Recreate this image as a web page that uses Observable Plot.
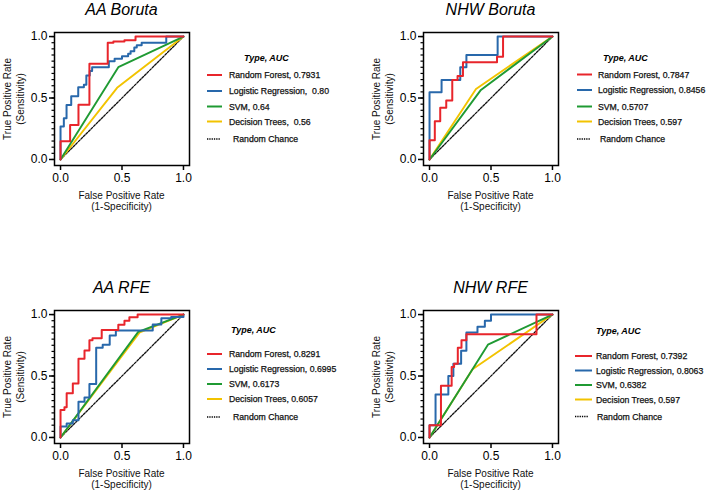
<!DOCTYPE html>
<html>
<head>
<meta charset="utf-8">
<script src="https://cdn.jsdelivr.net/npm/d3@7"></script>
<script src="https://cdn.jsdelivr.net/npm/@observablehq/plot@0.6"></script>
<style>
  html, body { margin: 0; padding: 0; background: #fff; }
  #root { position: relative; width: 708px; height: 493px; overflow: hidden; background: #fff;
          font-family: "Liberation Sans", Arial, sans-serif; }
  #root > .panel { position: absolute; }
  #overlay { position: absolute; left: 0; top: 0; }
</style>
</head>
<body>
<div id="root"></div>
<script>
// ---------------- DATA ----------------
const panelTitles = ["AA Boruta", "NHW Boruta", "AA RFE", "NHW RFE"];
const methods = ["Random Forest", "Logistic Regression", "SVM", "Decision Trees"];
const chanceLabel = "Random Chance";
const legendHeader = "Type, AUC";
const axisTicks = [0, 0.5, 1];
const yMinorTicks = [0, 0.05, 0.1, 0.15, 0.2, 0.25, 0.3, 0.35, 0.4, 0.45, 0.5,
                     0.55, 0.6, 0.65, 0.7, 0.75, 0.8, 0.85, 0.9, 0.95, 1];
const xTitle = ["False Positive Rate", "(1-Specificity)"];
const yTitle = ["True Positive Rate", "(Sensitivity)"];

// AUC labels per panel
const aucAABoruta  = ["0.7931", "\u00a00.80", "0.64", "\u00a00.56"];
const aucNHWBoruta = ["0.7847", "0.8456", "0.5707", "0.597"];
const aucAARFE     = ["0.8291", "0.6995", "0.6173", "0.6057"];
const aucNHWRFE    = ["0.7392", "0.8063", "0.6382", "0.597"];

// chance diagonal
const chanceLine = [[0, 0], [1, 1]];

// ROC points (FPR, TPR); RF / LR are step curves (corner points), SVM / DT are straight segments
const aaBorutaRF  = [[0,0],[0,0.149],[0.078,0.28],[0.146,0.446],[0.235,0.778],[0.384,0.95],[0.43,0.96],[0.52,0.97],[0.61,1],[1,1]];
const aaBorutaLR  = [[0,0],[0,0.268],[0.027,0.336],[0.049,0.444],[0.087,0.515],[0.144,0.588],[0.19,0.607],[0.21,0.683],[0.238,0.72],[0.257,0.75],[0.393,0.8],[0.44,0.82],[0.5,0.84],[0.55,0.86],[0.57,0.88],[0.6,0.91],[0.62,0.93],[0.66,0.95],[0.86,1],[1,1]];
const aaBorutaSVM = [[0,0],[0.47,0.751],[1,1]];
const aaBorutaDT  = [[0,0],[0.46,0.583],[1,1]];

const nhwBorutaRF  = [[0,0],[0,0.156],[0.043,0.31],[0.087,0.42],[0.136,0.48],[0.185,0.647],[0.228,0.68],[0.272,0.79],[0.549,0.836],[0.598,1],[1,1]];
const nhwBorutaLR  = [[0,0],[0,0.547],[0.098,0.647],[0.25,0.75],[0.3,0.85],[0.554,1],[1,1]];
const nhwBorutaSVM = [[0,0],[0.418,0.566],[1,1]];
const nhwBorutaDT  = [[0,0],[0.378,0.574],[1,1]];

const aaRfeRF  = [[0,0],[0,0.223],[0.032,0.245],[0.05,0.36],[0.1,0.44],[0.146,0.64],[0.195,0.707],[0.235,0.79],[0.26,0.807],[0.335,0.875],[0.47,0.918],[0.52,0.95],[0.56,0.978],[0.627,1],[1,1]];
const aaRfeLR  = [[0,0],[0,0.09],[0.05,0.114],[0.1,0.14],[0.146,0.29],[0.195,0.326],[0.235,0.435],[0.29,0.73],[0.343,0.755],[0.4,0.83],[0.45,0.87],[0.75,0.92],[0.82,0.97],[0.9,0.98],[1,1]];
const aaRfeSVM = [[0,0],[0.632,0.859],[1,1]];
const aaRfeDT  = [[0,0],[0.645,0.856],[1,1]];

const nhwRfeRF  = [[0,0],[0,0.1],[0.093,0.42],[0.18,0.574],[0.2,0.6],[0.23,0.73],[0.26,0.79],[0.3,0.84],[0.87,1],[1,1]];
const nhwRfeLR  = [[0,0],[0,0.1],[0.049,0.35],[0.153,0.5],[0.194,0.6],[0.257,0.705],[0.3,0.855],[0.39,0.9],[0.45,0.95],[0.5,1],[1,1]];
const nhwRfeSVM = [[0,0],[0.475,0.755],[1,1]];
const nhwRfeDT  = [[0,0],[0.35,0.555],[1,1]];

// ---------------- STYLE / LAYOUT ----------------
const colors = ["#e8252b", "#2868ab", "#1f9a33", "#f2c300"];
const fontFamily = "'Liberation Sans', Arial, sans-serif";

const panels = [
  { title: panelTitles[0], auc: aucAABoruta,  curves: [aaBorutaRF, aaBorutaLR, aaBorutaSVM, aaBorutaDT],
    left: 0, top: 0, legend: { hx: 244, hy: 58, sx1: 207, sx2: 222, tx: 229, cx: 233, rows: [75, 91, 106.5, 121.5, 139] } },
  { title: panelTitles[1], auc: aucNHWBoruta, curves: [nhwBorutaRF, nhwBorutaLR, nhwBorutaSVM, nhwBorutaDT],
    left: 369, top: 0, legend: { hx: 603, hy: 58, sx1: 577, sx2: 592, tx: 598, cx: 600, rows: [74.5, 90, 106.5, 121.5, 139] } },
  { title: panelTitles[2], auc: aucAARFE,     curves: [aaRfeRF, aaRfeLR, aaRfeSVM, aaRfeDT],
    left: 0, top: 278, legend: { hx: 231, hy: 330, sx1: 207, sx2: 222, tx: 229, cx: 233, rows: [354, 369, 384, 399, 417] } },
  { title: panelTitles[3], auc: aucNHWRFE,    curves: [nhwRfeRF, nhwRfeLR, nhwRfeSVM, nhwRfeDT],
    left: 369, top: 278, legend: { hx: 596, hy: 331, sx1: 575, sx2: 592, tx: 596, cx: 597, rows: [356, 370.5, 385, 399.5, 416.5] } }
];

const W = 200, H = 215, ML = 54, MR = 11, MT = 32, MB = 50;

function rocPlot(curves) {
  const ln = (pts, color, curve, sw) =>
    Plot.line(pts, { x: d => d[0], y: d => d[1], stroke: color, strokeWidth: sw, curve });
  return Plot.plot({
    width: W, height: H, marginLeft: ML, marginRight: MR, marginTop: MT, marginBottom: MB,
    x: { domain: [-0.049, 1.049] },
    y: { domain: [-0.049, 1.033] },
    style: { background: "transparent", fontFamily, fontSize: "12px", color: "#000", overflow: "visible" },
    marks: [
      Plot.line(chanceLine, { x: d => d[0], y: d => d[1], stroke: "#111", strokeWidth: 1.3, strokeDasharray: "2.2,1.4" }),
      ln(curves[3], colors[3], "linear", 1.9),
      ln(curves[2], colors[2], "linear", 1.9),
      ln(curves[1], colors[1], "step-after", 2),
      ln(curves[0], colors[0], "step-after", 2),
      Plot.frame({ stroke: "#000", strokeWidth: 1.5 }),
      Plot.axisX({ ticks: axisTicks, tickSize: 5, tickPadding: 3, tickFormat: d3.format(".1f"), label: null, strokeWidth: 1.5, fontSize: 12 }),
      Plot.axisY({ ticks: yMinorTicks, tickSize: 2.5, fill: "none", label: null, strokeWidth: 1.2 }),
      Plot.axisY({ ticks: axisTicks, tickSize: 5, tickPadding: 2, tickFormat: d3.format(".1f"), label: null, strokeWidth: 1.5, fontSize: 12 })
    ]
  });
}

const root = document.getElementById("root");
for (const p of panels) {
  const el = rocPlot(p.curves);
  el.classList.add("panel");
  el.style.left = p.left + "px";
  el.style.top = p.top + "px";
  root.appendChild(el);
}

// overlay for titles, axis titles and legends
const svg = d3.select(root).append("svg")
  .attr("id", "overlay").attr("width", 708).attr("height", 493)
  .style("font-family", fontFamily);

for (const p of panels) {
  const x0 = p.left + 60, x1 = p.left + 183;
  const xc = (x0 + x1) / 2;
  // title
  svg.append("text").attr("x", xc).attr("y", p.top + 15)
    .attr("text-anchor", "middle").attr("font-size", 16).attr("font-style", "italic")
    .attr("fill", "#000").text(p.title);
  // x title
  svg.append("text").attr("x", xc).attr("y", p.top + 198.5)
    .attr("text-anchor", "middle").attr("font-size", 10).attr("fill", "#111").text(xTitle[0]);
  svg.append("text").attr("x", xc).attr("y", p.top + 209.5)
    .attr("text-anchor", "middle").attr("font-size", 10).attr("fill", "#111").text(xTitle[1]);
  // y title
  const yc = p.top + 99;
  svg.append("text").attr("transform", `translate(${p.left + 10.5},${yc}) rotate(-90)`)
    .attr("text-anchor", "middle").attr("font-size", 10).attr("fill", "#111").text(yTitle[0]);
  svg.append("text").attr("transform", `translate(${p.left + 23.5},${yc}) rotate(-90)`)
    .attr("text-anchor", "middle").attr("font-size", 10).attr("fill", "#111").text(yTitle[1]);

  // legend
  const L = p.legend;
  svg.append("text").attr("x", L.hx).attr("y", L.hy + 3.3)
    .attr("font-size", 9).attr("font-weight", "bold").attr("font-style", "italic")
    .attr("fill", "#000").text(legendHeader);
  methods.forEach((m, i) => {
    const y = L.rows[i];
    svg.append("line").attr("x1", L.sx1).attr("x2", L.sx2).attr("y1", y).attr("y2", y)
      .attr("stroke", colors[i]).attr("stroke-width", 2);
    svg.append("text").attr("x", L.tx).attr("y", y + 3.2)
      .attr("font-size", 8.7).attr("fill", "#111")
      .attr("stroke", "#111").attr("stroke-width", 0.25)
      .style("white-space", "pre")
      .text(`${m}, ${p.auc[i]}`);
  });
  const yr = L.rows[4];
  svg.append("line").attr("x1", L.sx1).attr("x2", L.sx1 + 13).attr("y1", yr).attr("y2", yr)
    .attr("stroke", "#000").attr("stroke-width", 1.3).attr("stroke-dasharray", "1.3,1");
  svg.append("text").attr("x", L.cx).attr("y", yr + 3.2)
    .attr("font-size", 8.7).attr("fill", "#111")
    .attr("stroke", "#111").attr("stroke-width", 0.25)
    .text(chanceLabel);
}
</script>
</body>
</html>
